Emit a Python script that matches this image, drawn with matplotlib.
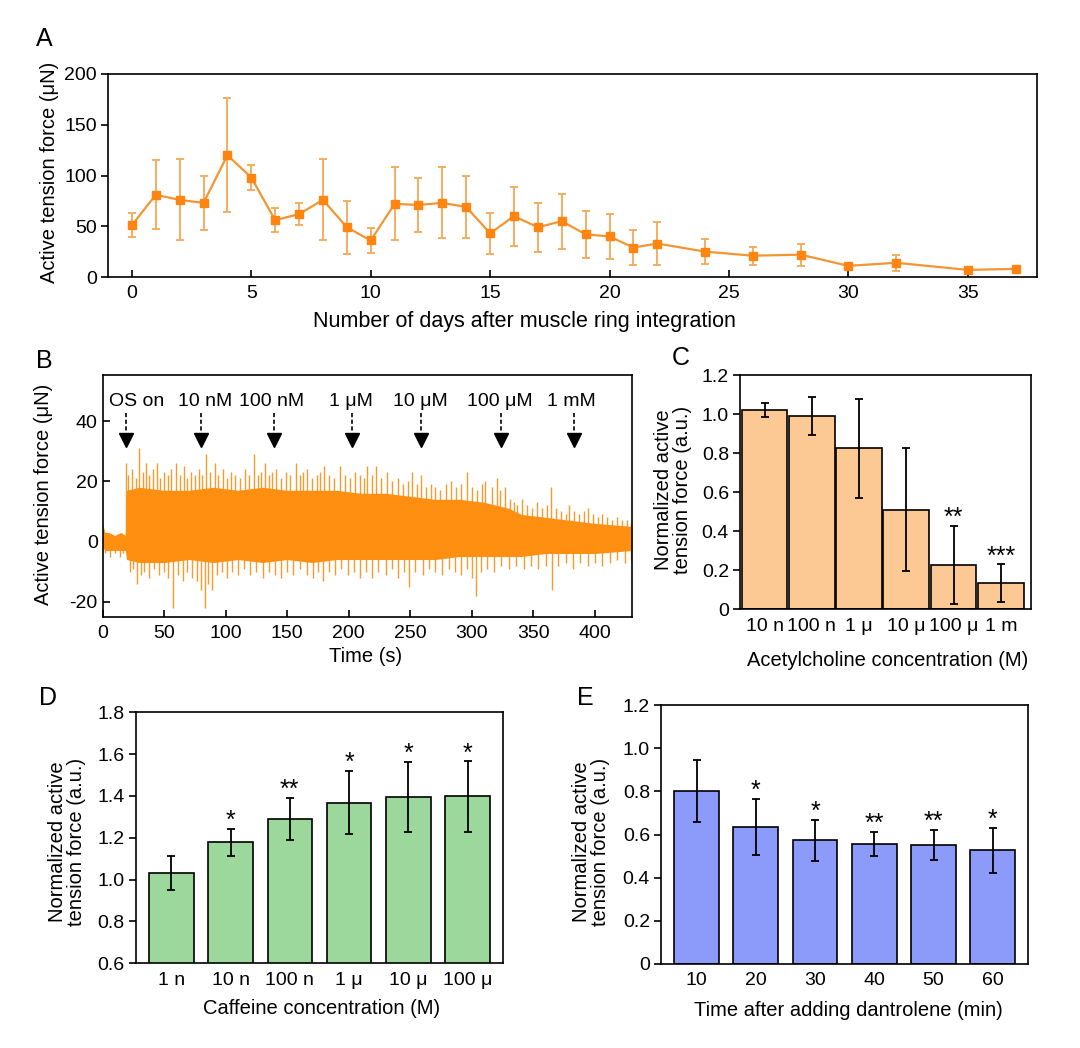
import matplotlib
matplotlib.use("Agg")
import matplotlib.pyplot as plt
import numpy as np

plt.rcParams['font.family'] = ['Liberation Sans', 'DejaVu Sans']
plt.rcParams['font.size'] = 14
plt.rcParams['axes.linewidth'] = 1.2
plt.rcParams['axes.unicode_minus'] = False

W, H = 1080, 1048
LBL = 14.5

# ---------------- Panel A data ----------------
days = [0, 1, 2, 3, 4, 5, 6, 7, 8, 9, 10, 11, 12, 13, 14, 15, 16, 17, 18, 19, 20,
        21, 22, 24, 26, 28, 30, 32, 35, 37]
force_A = [51, 81, 76, 73, 120, 98, 56, 62, 76, 49, 36, 72, 71, 73, 69, 43, 60, 49,
           55, 42, 40, 29, 33, 25, 21, 22, 11, 14, 7, 8]
err_A = [12, 34, 40, 27, 56, 12, 12, 11, 40, 26, 12, 36, 27, 35, 31, 20, 29, 24,
         27, 23, 22, 17, 21, 12, 9, 11, 2, 8, 2, 2]

# ---------------- Panel B data ----------------
core_t = [0, 2, 5, 10, 15, 18.5, 19.5, 30, 50, 70, 90, 110, 130, 150, 170, 190, 210,
          230, 250, 270, 290, 310, 330, 340, 360, 380, 400, 430]
core_hi = [6, 3, 3, 2, 3, 2, 17, 18, 17, 17, 18, 17, 18, 17, 17, 17, 16,
           16, 15, 14, 14, 13, 11, 9, 8, 7, 6, 5]
core_lo = [-2, -3, -3, -3, -3, -3, -6, -7, -7, -6, -7, -6, -7, -6, -7, -6, -6,
           -6, -6, -6, -5, -5, -5, -5, -4, -4, -4, -3]
up_t = [19, 21, 24, 27, 30, 33, 35, 38, 41, 44, 47, 50, 53, 56, 60, 63, 66, 69, 72, 75,
        78, 81, 84, 87, 91, 94, 98, 101, 104, 108, 112, 116, 119, 123, 126, 129, 132,
        135, 138, 141, 145, 149, 152, 157, 160, 163, 166, 170, 174, 177, 180, 184, 188,
        193, 197, 201, 205, 209, 212, 215, 219, 222, 226, 231, 235, 240, 244, 248, 251,
        255, 259, 263, 267, 270, 274, 279, 283, 287, 291, 296, 300, 304, 308, 311, 316,
        320, 323, 327, 331, 334, 337, 341, 345, 349, 353, 357, 361, 364, 368, 372, 376,
        379, 383, 387, 391, 394, 398, 402, 406, 410, 414, 418, 422, 426, 429]
up_v = [26, 22, 24, 21, 31, 23, 26, 22, 24, 26, 21, 23, 22, 24, 26, 22, 25, 21, 23, 22,
        24, 22, 29, 23, 26, 22, 24, 21, 23, 22, 21, 24, 22, 29, 22, 23, 26,
        22, 23, 24, 21, 23, 22, 26, 22, 23, 24, 21, 22, 23, 25, 22, 21,
        25, 22, 21, 23, 22, 21, 25, 22, 25, 21, 23, 20, 21, 19, 20, 23,
        19, 22, 18, 19, 18, 17, 19, 20, 18, 19, 23, 18, 17, 19, 20, 18,
        21, 17, 18, 14, 13, 12, 14, 12, 11, 13, 11, 12, 18, 11, 10, 9,
        12, 10, 9, 10, 11, 9, 8, 9, 8, 7, 8, 7, 7, 6]
down_t = [2, 6, 10, 14, 17, 22, 25, 28, 31, 34, 38, 42, 46, 50, 53, 57, 61, 65, 69, 73,
          77, 80, 83, 86, 89, 93, 97, 101, 105, 110, 115, 120, 125, 130, 135, 140, 145,
          150, 155, 160, 166, 171, 175, 179, 184, 189, 194, 199, 204, 209, 214, 219, 224,
          230, 235, 240, 245, 249, 254, 260, 265, 270, 276, 281, 286, 291, 296, 300, 303,
          307, 312, 318, 324, 330, 336, 342, 348, 354, 360, 365, 370, 376, 382, 388, 394,
          400, 406, 412, 418, 424, 429]
down_v = [-4, -5, -4, -5, -4, -10, -9, -14, -11, -10, -12, -9, -11, -10, -12, -22, -11,
          -13, -10, -12, -13, -16, -22, -14, -16, -11, -10, -12, -10, -11, -9, -11, -10,
          -12, -10, -11, -12, -10, -11, -9, -11, -12, -10, -13, -10, -11, -9, -11, -10,
          -12, -10, -12, -10, -11, -9, -12, -10, -15, -10, -11, -9, -10, -11, -9, -10,
          -11, -9, -12, -18, -10, -9, -10, -8, -9, -8, -9, -8, -9, -8, -16, -8, -7, -9,
          -7, -8, -7, -8, -7, -6, -7, -6]
arrow_t = [19, 80, 139, 203, 259, 324, 383]
arrow_lbl = ["OS on", "10 nM", "100 nM", "1 μM", "10 μM", "100 μM", "1 mM"]
lbl_t = [28, 83, 137, 202, 258, 323, 381]

# ---------------- Panel C data ----------------
cat_C = ["10 n", "100 n", "1 μ", "10 μ", "100 μ", "1 m"]
val_C = [1.02, 0.99, 0.824, 0.509, 0.229, 0.133]
err_C = [0.035, 0.095, 0.255, 0.315, 0.2, 0.098]
sig_C = ["", "", "", "", "**", "***"]

# ---------------- Panel D data ----------------
cat_D = ["1 n", "10 n", "100 n", "1 μ", "10 μ", "100 μ"]
val_D = [1.033, 1.178, 1.290, 1.368, 1.395, 1.398]
err_D = [0.082, 0.065, 0.10, 0.152, 0.168, 0.168]
sig_D = ["", "*", "**", "*", "*", "*"]

# ---------------- Panel E data ----------------
cat_E = ["10", "20", "30", "40", "50", "60"]
val_E = [0.80, 0.636, 0.573, 0.556, 0.553, 0.527]
err_E = [0.144, 0.13, 0.095, 0.056, 0.07, 0.105]
sig_E = ["", "*", "*", "**", "**", "*"]


def add_ax(l, t, r, b):
    return fig.add_axes([l / W, 1 - b / H, (r - l) / W, (b - t) / H])


def ftext(x, y, s, **kw):
    fig.text(x / W, 1 - y / H, s, **kw)


fig = plt.figure(figsize=(W / 100, H / 100), dpi=100)

# ---------------- A ----------------
axA = add_ax(108, 74, 1037, 277)
axA.errorbar(days, force_A, yerr=err_A, fmt='none', ecolor='#F5A855', elinewidth=1.3,
             capsize=3, capthick=1.3, zorder=2)
axA.plot(days, force_A, '-', color='#F39533', lw=1.6, zorder=3)
axA.plot(days, force_A, 's', color='#FF8410', ms=6, zorder=4)
axA.set_xlim(-1, 37.9)
axA.set_ylim(0, 200)
axA.set_xticks(range(0, 36, 5))
axA.set_yticks(range(0, 201, 50))
axA.tick_params(axis='x', direction='in', length=5, width=1.2, pad=6)
axA.tick_params(axis='y', direction='out', length=5, width=1.2, pad=3)
ftext(50, 172, "Active tension force (μN)", rotation=90, ha='center', va='center',
      fontsize=LBL)
ftext(524, 322, "Number of days after muscle ring integration", ha='center',
      va='center', fontsize=15.5)
ftext(44, 39, "A", fontsize=18, ha='center', va='center')

# ---------------- B ----------------
axB = add_ax(102.5, 375, 632, 616.7)
axB.vlines(up_t, 0, up_v, color='#F99A2A', lw=1.0, zorder=1)
axB.vlines(down_t, 0, down_v, color='#F99A2A', lw=1.0, zorder=1)
axB.fill_between(core_t, core_lo, core_hi, color='#FF8F10', lw=0, zorder=2)
axB.set_xlim(0, 430)
axB.set_ylim(-25, 55.3)
axB.set_xticks(range(0, 401, 50))
axB.set_yticks([-20, 0, 20, 40])
axB.tick_params(axis='both', direction='in', length=5, width=1.2)
axB.tick_params(axis='x', pad=6)
for at, lt, lb in zip(arrow_t, lbl_t, arrow_lbl):
    axB.plot([at, at], [42.7, 36.0], color='black', lw=1.2, ls=(0, (2.5, 1.5)), zorder=5)
    axB.plot([at], [33.6], marker='v', color='black', ms=10, zorder=5)
    axB.text(lt, 46.4, lb, ha='center', va='center', fontsize=14)
ftext(44, 494, "Active tension force (μN)", rotation=90, ha='center', va='center',
      fontsize=LBL)
ftext(366, 657, "Time (s)", ha='center', va='center', fontsize=LBL)
ftext(44, 361, "B", fontsize=18, ha='center', va='center')


def bar_panel(ax, cats, vals, errs, sigs, color, width, xlim, ylim, yticks, ylabels):
    x = np.arange(len(cats))
    ax.bar(x, vals, width=width, color=color, edgecolor='black', lw=1.2, zorder=2)
    ax.errorbar(x, vals, yerr=errs, fmt='none', ecolor='black', elinewidth=1.3,
                capsize=3, capthick=1.3, zorder=3)
    for xi, v, e, s in zip(x, vals, errs, sigs):
        if s:
            ax.annotate(s, (xi, v + e), xytext=(0, -3), textcoords='offset points',
                        ha='center', va='bottom', fontsize=18)
    ax.set_xlim(*xlim)
    ax.set_ylim(*ylim)
    ax.set_xticks(x)
    ax.set_xticklabels(cats)
    ax.set_yticks(yticks)
    ax.set_yticklabels(ylabels)
    ax.tick_params(axis='x', direction='in', length=5, width=1.2, pad=6)
    ax.tick_params(axis='y', direction='out', length=5, width=1.2, pad=3)


# ---------------- C ----------------
axC = add_ax(740, 375, 1031, 609.3)
bar_panel(axC, cat_C, val_C, err_C, sig_C, '#FCC894', 0.97, (-0.52, 5.64), (0, 1.2),
          [0, 0.2, 0.4, 0.6, 0.8, 1.0, 1.2], ["0", "0.2", "0.4", "0.6", "0.8", "1.0", "1.2"])
ftext(673, 490, "Normalized active\ntension force (a.u.)", rotation=90, ha='center',
      va='center', linespacing=1.05, fontsize=LBL)
ftext(888, 660, "Acetylcholine concentration (M)", ha='center', va='center', fontsize=LBL)
ftext(681, 358, "C", fontsize=18, ha='center', va='center')

# ---------------- D ----------------
axD = add_ax(135.7, 712.3, 503.3, 963.3)
bar_panel(axD, cat_D, val_D, err_D, sig_D, '#9CD89C', 0.75, (-0.6, 5.6), (0.6, 1.8),
          [0.6, 0.8, 1.0, 1.2, 1.4, 1.6, 1.8], ["0.6", "0.8", "1.0", "1.2", "1.4", "1.6", "1.8"])
ftext(67, 842, "Normalized active\ntension force (a.u.)", rotation=90, ha='center',
      va='center', linespacing=1.05, fontsize=LBL)
ftext(322, 1008, "Caffeine concentration (M)", ha='center', va='center', fontsize=LBL)
ftext(48, 698, "D", fontsize=18, ha='center', va='center')

# ---------------- E ----------------
axE = add_ax(661, 705, 1028.3, 964)
bar_panel(axE, cat_E, val_E, err_E, sig_E, '#8C9AFA', 0.756, (-0.6, 5.6), (0, 1.2),
          [0, 0.2, 0.4, 0.6, 0.8, 1.0, 1.2], ["0", "0.2", "0.4", "0.6", "0.8", "1.0", "1.2"])
ftext(591, 842, "Normalized active\ntension force (a.u.)", rotation=90, ha='center',
      va='center', linespacing=1.05, fontsize=LBL)
ftext(848, 1010, "Time after adding dantrolene (min)", ha='center', va='center',
      fontsize=LBL)
ftext(585, 698, "E", fontsize=18, ha='center', va='center')

fig.savefig("out.png", dpi=100)
